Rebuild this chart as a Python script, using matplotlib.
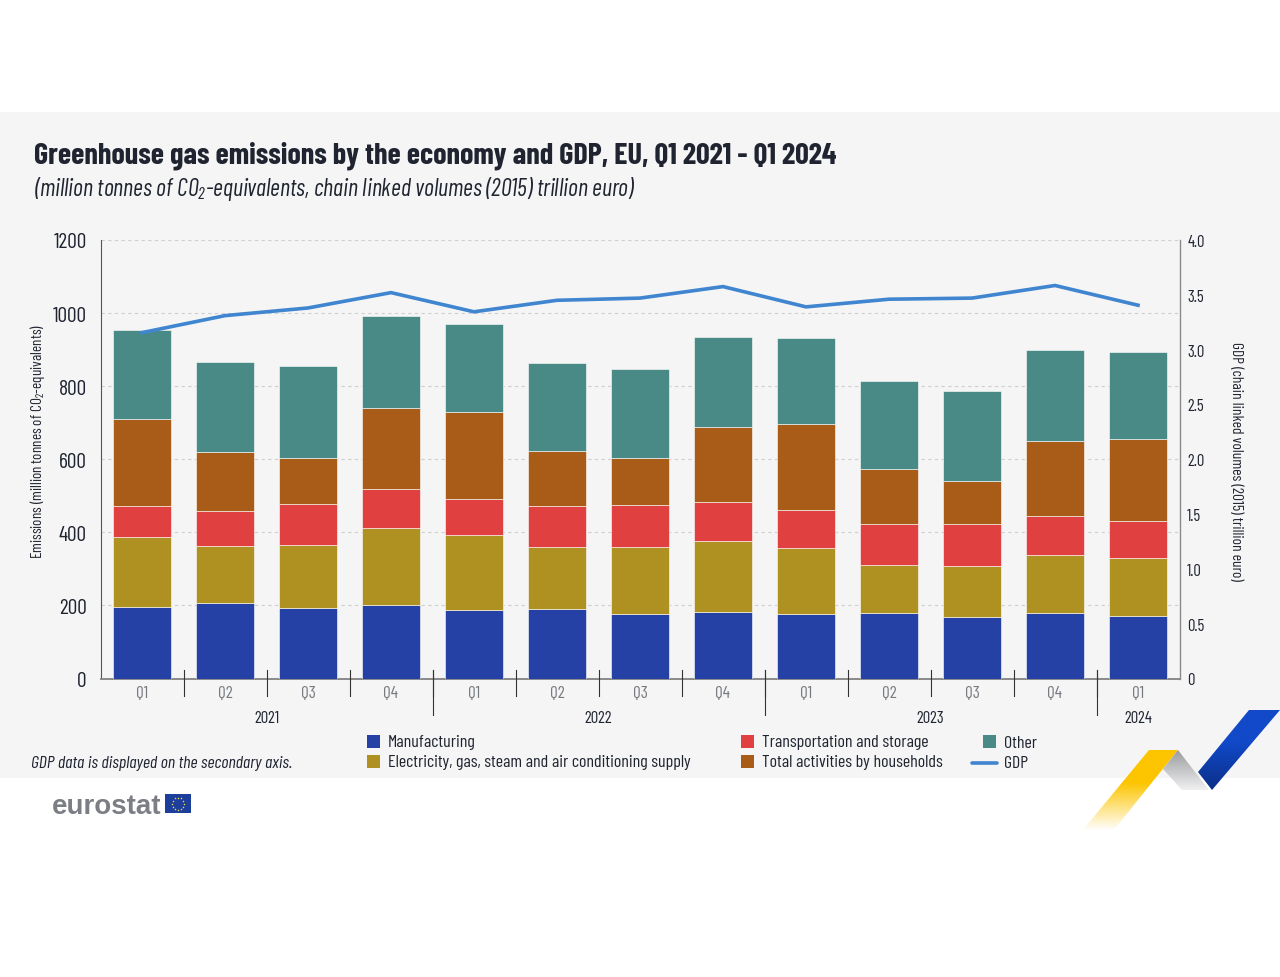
from __future__ import annotations

import matplotlib

matplotlib.use("Agg")

import logging

import matplotlib.pyplot as plt
import numpy as np
from matplotlib.patches import Polygon, Rectangle

logging.getLogger("matplotlib.font_manager").setLevel(logging.ERROR)
plt.rcParams["font.family"] = ["Barlow Condensed", "Liberation Sans"]
plt.rcParams["mathtext.default"] = "regular"

WIDTH, HEIGHT = 1280, 978

quarters = ["Q1", "Q2", "Q3", "Q4", "Q1", "Q2", "Q3", "Q4", "Q1", "Q2", "Q3", "Q4", "Q1"]
years = ["2021", "2022", "2023", "2024"]
year_lengths = [4, 4, 4, 1]

manufacturing = [196, 207, 193, 201, 188, 190, 177, 182, 177, 179, 169, 179, 171]
electricity = [191, 156, 172, 211, 205, 170, 183, 194, 181, 132, 139, 159, 159]
transport = [85, 95, 113, 107, 98, 112, 115, 107, 103, 112, 115, 107, 101]
households = [238, 162, 125, 221, 239, 150, 128, 205, 236, 150, 118, 205, 224]
other = [244, 246, 252, 252, 240, 242, 244, 247, 235, 241, 246, 249, 239]
gdp = [3.155, 3.31, 3.38, 3.52, 3.345, 3.45, 3.47, 3.575, 3.39, 3.46, 3.47, 3.585, 3.405]

series_names = [
    "Manufacturing",
    "Electricity, gas, steam and air conditioning supply",
    "Transportation and storage",
    "Total activities by households",
    "Other",
]
colors = ["#2541a6", "#ae9120", "#e04040", "#a95c17", "#4a8a86"]
GDP_COLOR = "#3f85d0"
TEXT = "#1f2430"


def px_axes(fig):
    overlay = fig.add_axes([0, 0, 1, 1], zorder=5)
    overlay.set_xlim(0, WIDTH)
    overlay.set_ylim(HEIGHT, 0)
    overlay.axis("off")
    overlay.patch.set_alpha(0)
    return overlay


def gradient_poly(overlay, pts, c0, c1, hold=0.0):
    pts = np.array(pts)
    x0, x1 = pts[:, 0].min(), pts[:, 0].max()
    y0, y1 = pts[:, 1].min(), pts[:, 1].max()
    c0 = np.array(matplotlib.colors.to_rgba(c0))
    c1 = np.array(matplotlib.colors.to_rgba(c1))
    t = np.clip((np.linspace(0, 1, 64) - hold) / (1 - hold), 0, 1)[:, None]
    grad = (c0 + (c1 - c0) * t)[:, None, :]
    im = overlay.imshow(grad, extent=[x0, x1, y1, y0], aspect="auto", zorder=3)
    im.set_clip_path(Polygon(pts, transform=overlay.transData))


def draw_chart(fig):
    ax = fig.add_axes([100.5 / WIDTH, 1 - 679.5 / HEIGHT, 1079 / WIDTH, 438.5 / HEIGHT], zorder=2)
    ax.patch.set_alpha(0)
    x = np.arange(len(quarters))

    bottom = np.zeros(len(quarters))
    for name, vals, col in zip(
        series_names, [manufacturing, electricity, transport, households, other], colors, strict=True
    ):
        ax.bar(x, vals, width=0.71, bottom=bottom, color=col, label=name, zorder=3,
               edgecolor="white", linewidth=0.4)
        bottom += np.array(vals)

    ax.set_xlim(-0.5, len(quarters) - 0.5)
    ax.set_ylim(0, 1200)
    ax.set_yticks(range(0, 1201, 200))
    ax.tick_params(axis="y", length=0, labelsize=15.5, labelcolor=TEXT, pad=10)
    ax.set_xticks(x, quarters)
    ax.tick_params(axis="x", length=0, labelsize=12.5, labelcolor="#777b80", pad=5)
    ax.grid(axis="y", color="#cfcfcf", linestyle=(0, (3, 3)), linewidth=0.8, zorder=0)
    ax.set_axisbelow(True)
    for side in ["top", "right"]:
        ax.spines[side].set_visible(False)
    ax.spines["left"].set_color("#555555")
    ax.spines["left"].set_linewidth(0.8)
    ax.spines["bottom"].set_color("#8a8a8a")
    ax.spines["bottom"].set_linewidth(1.4)
    ax.set_ylabel("Emissions (million tonnes of CO$_2$-equivalents)", fontsize=10.9, color=TEXT, va="center")
    ax.yaxis.set_label_coords(-63 / 1079, 0.543)

    ax2 = ax.twinx()
    ax2.patch.set_alpha(0)
    ax2.plot(x, gdp, color=GDP_COLOR, linewidth=2.6, zorder=5, solid_joinstyle="miter")
    ax2.set_ylim(0, 4)
    ax2.set_yticks(np.arange(0, 4.1, 0.5))
    ax2.set_yticklabels([f"{v:.1f}" if v else "0" for v in np.arange(0, 4.1, 0.5)])
    ax2.tick_params(axis="y", length=0, labelsize=12, labelcolor=TEXT, pad=5.5)
    for side in ["top", "left", "bottom"]:
        ax2.spines[side].set_visible(False)
    ax2.spines["right"].set_color("#8a8a8a")
    ax2.spines["right"].set_linewidth(1.0)
    ax2.set_ylabel("GDP (chain linked volumes (2015) trillion euro)", fontsize=11.1, color=TEXT, rotation=270,
                   va="center")
    ax2.yaxis.set_label_coords(1 + 56 / 1079, 0.497)
    return ax


def draw_year_axis(ax):
    trans = ax.get_xaxis_transform()
    to_axes = 1 / 438.5

    # small separators between quarters
    for i in range(len(quarters) - 1):
        ax.plot([i + 0.5, i + 0.5], [8.5 * to_axes, -17 * to_axes], transform=trans,
                color="#333333", linewidth=0.8, clip_on=False, zorder=6)

    start = 0
    for label, n in zip(years, year_lengths, strict=True):
        centre = start + (n - 1) / 2
        ax.text(centre, -39.5 * to_axes, label, transform=trans, ha="center", va="center",
                fontsize=12, color=TEXT)
        start += n
        if start < len(quarters):
            ax.plot([start - 0.5, start - 0.5], [8.5 * to_axes, -36.5 * to_axes], transform=trans,
                    color="#333333", linewidth=0.8, clip_on=False, zorder=6)


def draw_legend(overlay):
    entries = [
        (367, 742, series_names[0], colors[0]),
        (367, 762, series_names[1], colors[1]),
        (741, 742, series_names[2], colors[2]),
        (741, 762, series_names[3], colors[3]),
        (983, 742, series_names[4], colors[4]),
    ]
    for left, y, name, col in entries:
        overlay.add_patch(Rectangle((left, y - 6.5), 13, 13, facecolor=col, edgecolor="none"))
        overlay.text(left + 21, y + 1, name, fontsize=12.9, color=TEXT, va="center", ha="left")
    overlay.plot([972, 997], [764, 764], color=GDP_COLOR, linewidth=2.6, solid_capstyle="round")
    overlay.text(1004, 763, "GDP", fontsize=12.9, color=TEXT, va="center", ha="left")


def draw_branding(overlay):
    overlay.text(52, 814, "eurostat", fontsize=20, fontweight="bold", color="#7b7f85",
                 family=["Liberation Sans"], va="baseline", ha="left")
    overlay.add_patch(Rectangle((165, 795), 26, 19, facecolor="#1d3f9c", edgecolor="none"))
    angles = np.linspace(0, 2 * np.pi, 12, endpoint=False)
    overlay.scatter(178 + 6 * np.cos(angles), 804.5 + 6 * np.sin(angles), s=1.2, color="#f4d23c",
                    linewidths=0, zorder=4)

    # corner ribbons
    gradient_poly(overlay, [(1149, 751), (1178, 751), (1113, 832), (1082, 832)], "#fcc500", "#ffffff", hold=0.4)
    gradient_poly(overlay, [(1178, 751), (1209, 791), (1182, 791), (1163, 770)], "#9a9ca0", "#f0f0f0")
    gradient_poly(overlay, [(1249, 711), (1280, 711), (1212, 791), (1198, 773)], "#1149c9", "#0b2f87", hold=0.4)


def main() -> None:
    fig = plt.figure(figsize=(WIDTH / 100, HEIGHT / 100), dpi=100, facecolor="white")
    fig.patches.append(Rectangle((0, 1 - 778.5 / HEIGHT), 1, 666 / HEIGHT, transform=fig.transFigure,
                                 facecolor="#f5f5f5", edgecolor="none", zorder=-5))

    ax = draw_chart(fig)
    draw_year_axis(ax)

    overlay = px_axes(fig)
    overlay.text(34, 163, "Greenhouse gas emissions by the economy and GDP, EU, Q1 2021 - Q1 2024",
                 fontsize=21.8, fontweight="bold", color=TEXT, va="baseline", ha="left")
    overlay.text(34, 196, "(million tonnes of CO$_2$-equivalents, chain linked volumes (2015) trillion euro)",
                 fontsize=17.4, style="italic", color=TEXT, va="baseline", ha="left")
    overlay.text(31, 768, "GDP data is displayed on the secondary axis.", fontsize=12.8, style="italic",
                 color=TEXT, va="baseline", ha="left")
    draw_legend(overlay)
    draw_branding(overlay)
    overlay.set_xlim(0, WIDTH)
    overlay.set_ylim(HEIGHT, 0)

    fig.savefig("out.png", dpi=100, facecolor=fig.get_facecolor())
    plt.close(fig)


if __name__ == "__main__":
    main()
